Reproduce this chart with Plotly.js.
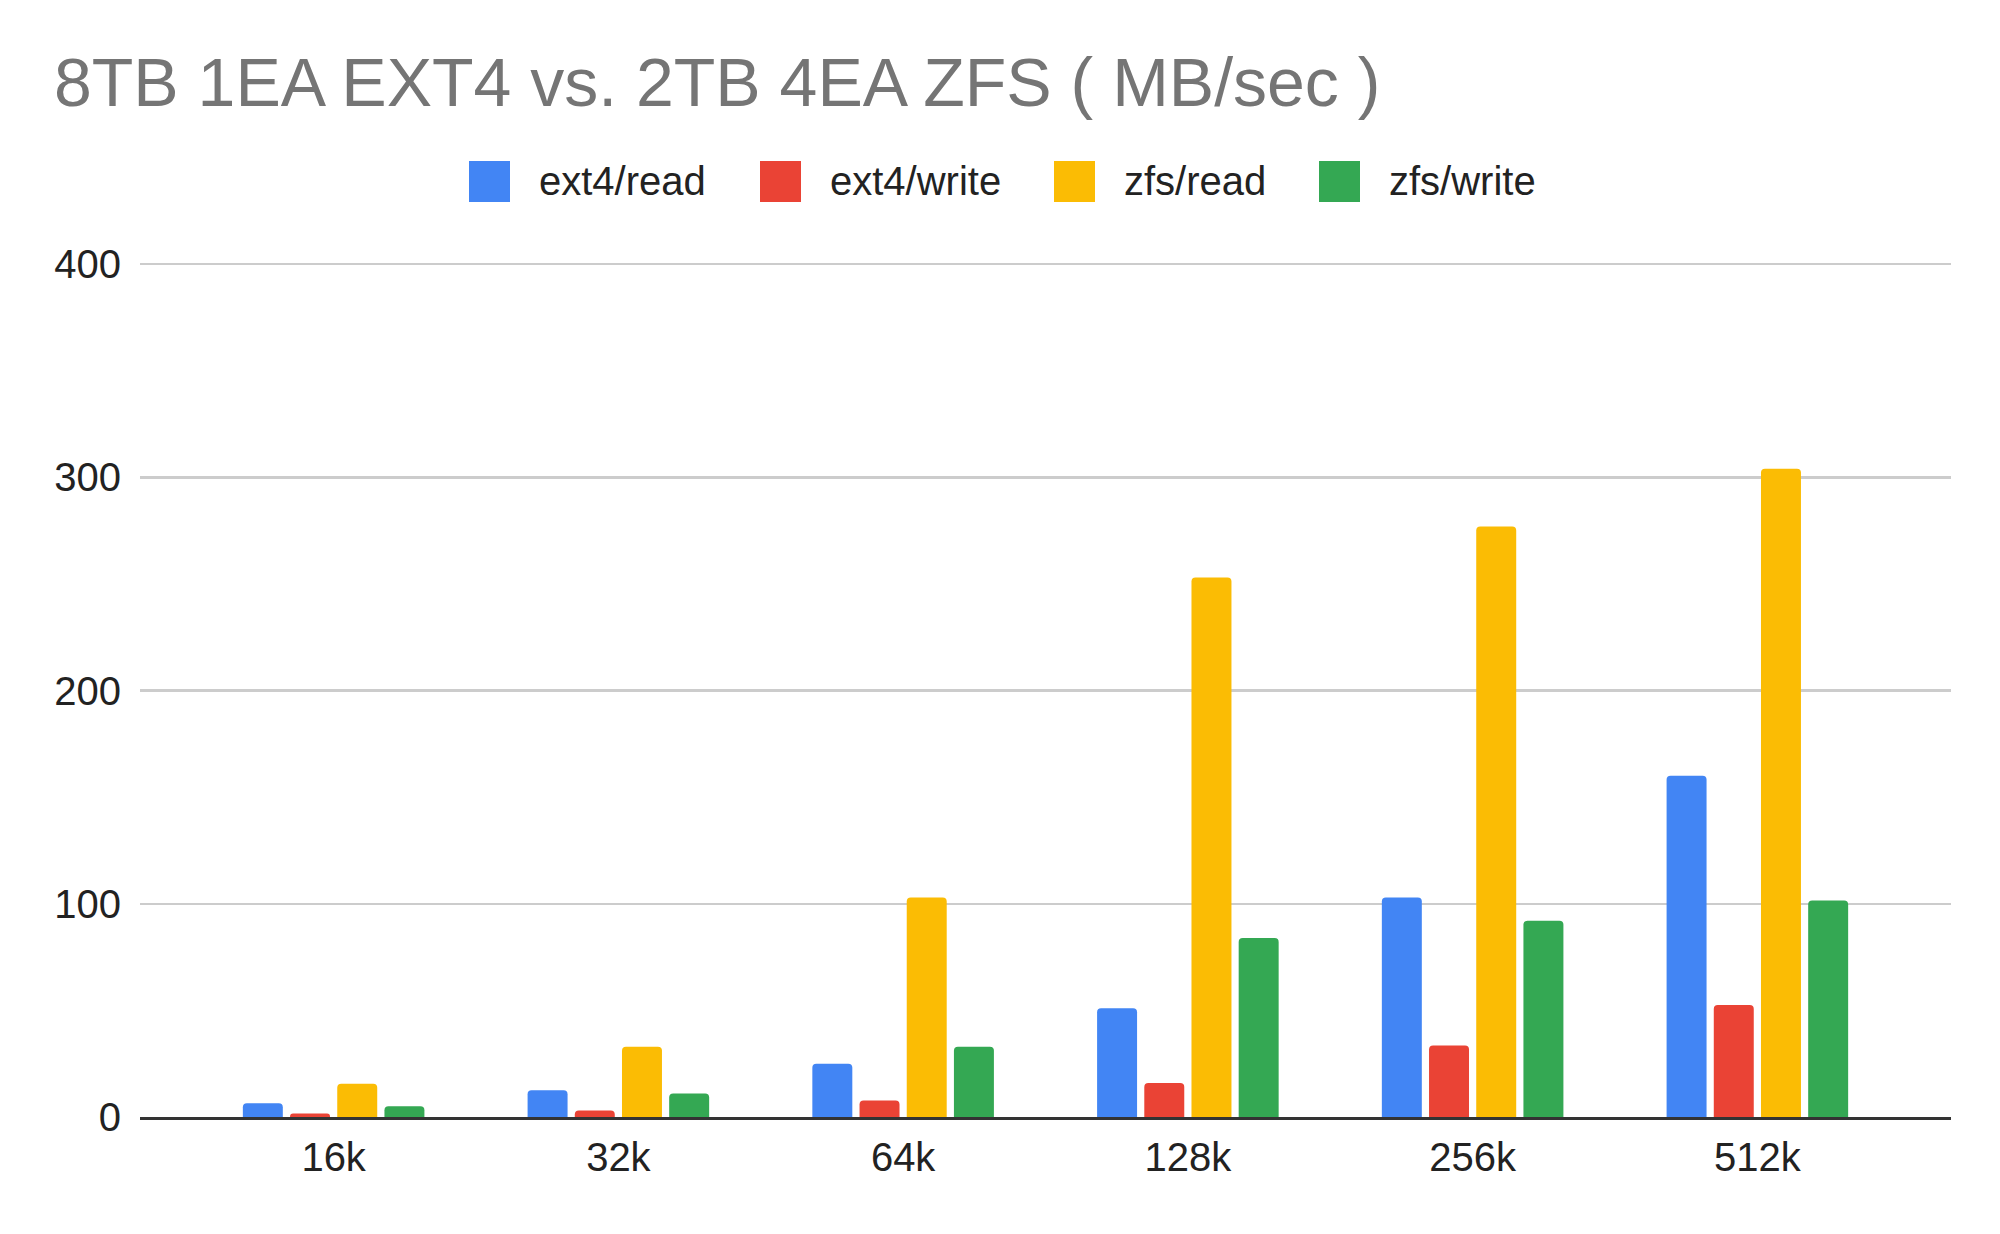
<!DOCTYPE html>
<html>
<head>
<meta charset="utf-8">
<script src="https://cdn.plot.ly/plotly-3.0.1.min.js"></script>
<style>
  html, body { margin: 0; padding: 0; background: #ffffff; }
  #chart { width: 2000px; height: 1234px; }
</style>
</head>
<body>
<div id="chart"></div>
<script>
// ---- data ----
const categories = ['16k', '32k', '64k', '128k', '256k', '512k'];
const seriesNames = ['ext4/read', 'ext4/write', 'zfs/read', 'zfs/write'];
const ext4Read  = [6.5, 12.5, 25, 51, 103, 160];
const ext4Write = [1.6, 3, 7.7, 16, 33.5, 52.5];
const zfsRead   = [15.6, 33, 103, 253, 277, 304];
const zfsWrite  = [5, 11, 33, 84, 92, 101.5];
const yTickValues = [0, 100, 200, 300, 400];
const titleText = '8TB 1EA EXT4 vs. 2TB 4EA ZFS ( MB/sec )';

// ---- style ----
const seriesColors = ['#4285F4', '#EA4335', '#FBBC04', '#34A853'];
const seriesValues = [ext4Read, ext4Write, zfsRead, zfsWrite];
const W = 2000, H = 1234;
const M = { l: 140, r: 49, t: 262, b: 117 };
const FONT = '"Liberation Sans", Arial, Helvetica, sans-serif';

const traces = seriesNames.map((name, i) => ({
  type: 'bar',
  name: name,
  x: categories,
  y: seriesValues[i],
  marker: { color: seriesColors[i], line: { width: 0 } },
  hoverinfo: 'x+y+name',
  showlegend: false
}));

// custom legend (large squares like the original)
const plotW = W - M.l - M.r, plotH = H - M.t - M.b;
const px2x = p => (p - M.l) / plotW;
const px2y = p => (H - M.b - p) / plotH;
const legendLeft = [469, 760, 1054, 1319];
const legendCenterY = 181.5;
const sq = 41;
const shapes = [], annotations = [];
seriesNames.forEach((name, i) => {
  shapes.push({
    type: 'rect', xref: 'paper', yref: 'paper',
    x0: px2x(legendLeft[i]), x1: px2x(legendLeft[i] + sq),
    y0: px2y(legendCenterY + sq / 2), y1: px2y(legendCenterY - sq / 2),
    fillcolor: seriesColors[i], line: { width: 0 }
  });
  annotations.push({
    xref: 'paper', yref: 'paper',
    x: px2x(legendLeft[i] + 68), y: px2y(legendCenterY - 1),
    xanchor: 'left', yanchor: 'middle', showarrow: false,
    text: name, font: { family: FONT, size: 40, color: '#222222' }
  });
});

const layout = {
  width: W, height: H,
  margin: M,
  paper_bgcolor: '#ffffff', plot_bgcolor: '#ffffff',
  font: { family: FONT, size: 40, color: '#222222' },
  title: {
    text: titleText,
    font: { family: FONT, size: 68, color: '#757575' },
    xref: 'container', yref: 'container',
    x: 54 / W, xanchor: 'left',
    y: 1 - 82 / H, yanchor: 'middle'
  },
  barmode: 'group',
  bargap: 0.337,
  bargroupgap: 0.153,
  barcornerradius: 4,
  showlegend: false,
  xaxis: {
    type: 'category',
    range: [-0.68, categories.length - 1 + 0.68],
    showgrid: false,
    showline: true, linecolor: '#333333', linewidth: 3,
    ticks: '', ticklabelstandoff: 3,
    tickfont: { family: FONT, size: 40, color: '#222222' },
    fixedrange: true
  },
  yaxis: {
    range: [0, 401],
    tickvals: yTickValues,
    ticktext: yTickValues.map(String),
    showgrid: true, gridcolor: '#cccccc', gridwidth: 2.5,
    zeroline: false, showline: false,
    ticks: '', ticklabelstandoff: 18,
    tickfont: { family: FONT, size: 40, color: '#222222' },
    fixedrange: true
  },
  shapes: shapes,
  annotations: annotations
};

Plotly.newPlot('chart', traces, layout, { displayModeBar: false, staticPlot: true });
</script>
</body>
</html>
